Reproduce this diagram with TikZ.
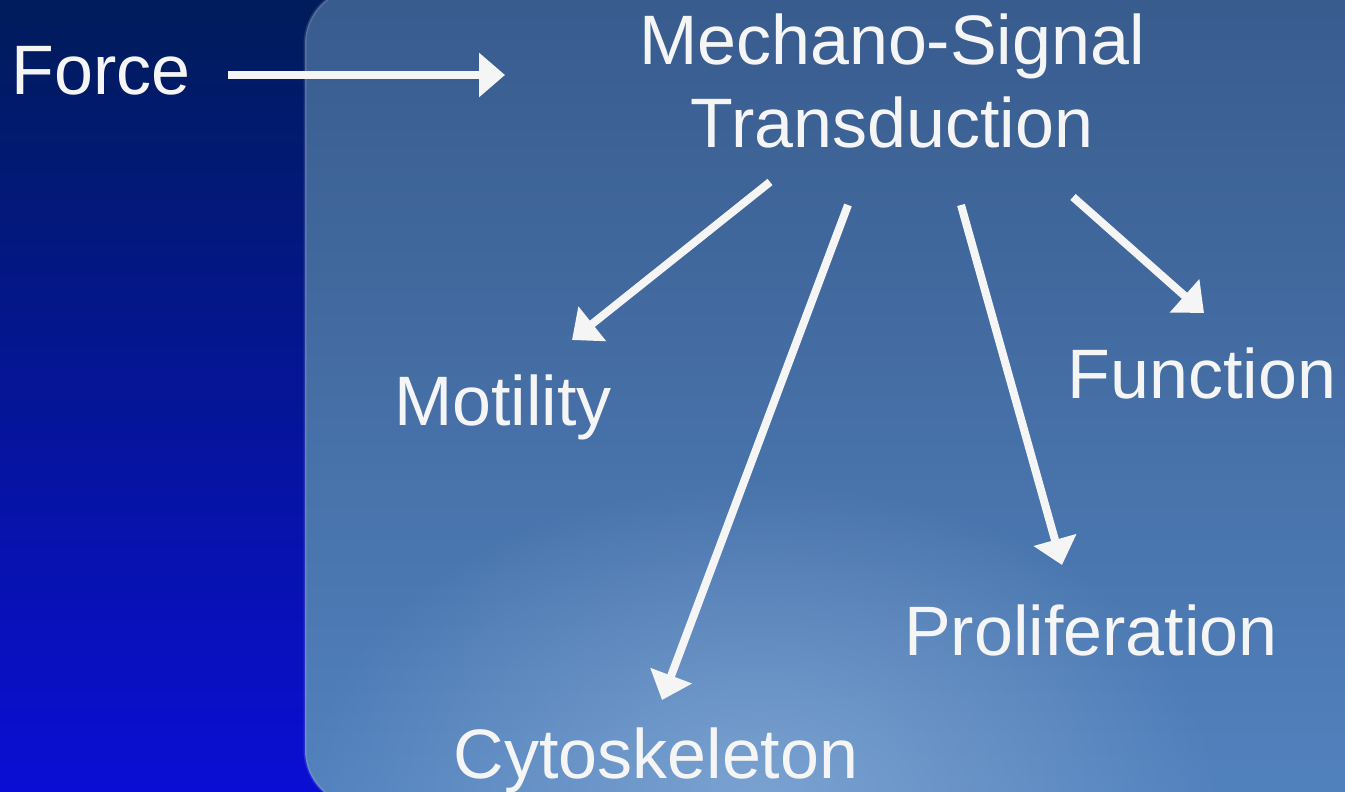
\documentclass[tikz,border=0pt]{standalone}
\usepackage{fontspec}
\setmainfont{Liberation Sans}
\usetikzlibrary{arrows.meta,fadings}

\definecolor{navytop}{HTML}{001C5A}
\definecolor{navybot}{HTML}{0A0ED4}
\definecolor{paneltop}{HTML}{385B8D}
\definecolor{panelbot}{HTML}{5282BE}
\definecolor{glow}{HTML}{86ABD6}
\definecolor{ink}{HTML}{F5F5F5}

\tikzfading[name=glowfade, inner color=transparent!0, outer color=transparent!100]

\tikzset{
  word/.style={text=ink, inner sep=0pt, anchor=base,
    font=\fontsize{35}{41.5}\selectfont},
  arr/.style={draw=ink, line width=4pt,
    -{Triangle[length=13pt,width=21.5pt]}}
}

\begin{document}
\begin{tikzpicture}[x=0.5pt, y=-0.5pt]
  \useasboundingbox (0,0) rectangle (1345,792);

  % backdrop
  \shade[top color=navytop, bottom color=navybot] (0,0) rectangle (1345,792);
  \shade[top color=paneltop, bottom color=panelbot, rounded corners=28pt]
    (305,-12) rectangle (1420,806);
  \begin{scope}
    \clip[rounded corners=28pt] (305,-12) rectangle (1420,806);
    \fill[glow, path fading=glowfade, opacity=0.8] (760,800) ellipse [x radius=460, y radius=320];
  \end{scope}
  \draw[white, opacity=0.12, line width=1.5pt, rounded corners=28pt]
    (305,-12) rectangle (1420,806);

  % labels
  \node[word] (force) at (101,95) {Force};
  \node[word, align=center] (mst) at (892,148) {Mechano-Signal\\Transduction};
  \node[word] (mot) at (503,425) {Motility};
  \node[word] (cyto) at (656,778) {Cytoskeleton};
  \node[word] (prolif) at (1091,655) {Proliferation};
  \node[word] (func) at (1202,398) {Function};

  % arrow ends
  \coordinate (f0) at (228,75);   \coordinate (f1) at (505,75);
  \coordinate (m0) at (770,182);  \coordinate (m1) at (572,340);
  \coordinate (c0) at (848,205);  \coordinate (c1) at (662,700);
  \coordinate (p0) at (961,205);  \coordinate (p1) at (1062,565);
  \coordinate (u0) at (1073,197); \coordinate (u1) at (1204,313);

  \draw[arr] (f0) -- (f1);
  \draw[arr] (m0) -- (m1);
  \draw[arr] (c0) -- (c1);
  \draw[arr] (p0) -- (p1);
  \draw[arr] (u0) -- (u1);
\end{tikzpicture}
\end{document}
